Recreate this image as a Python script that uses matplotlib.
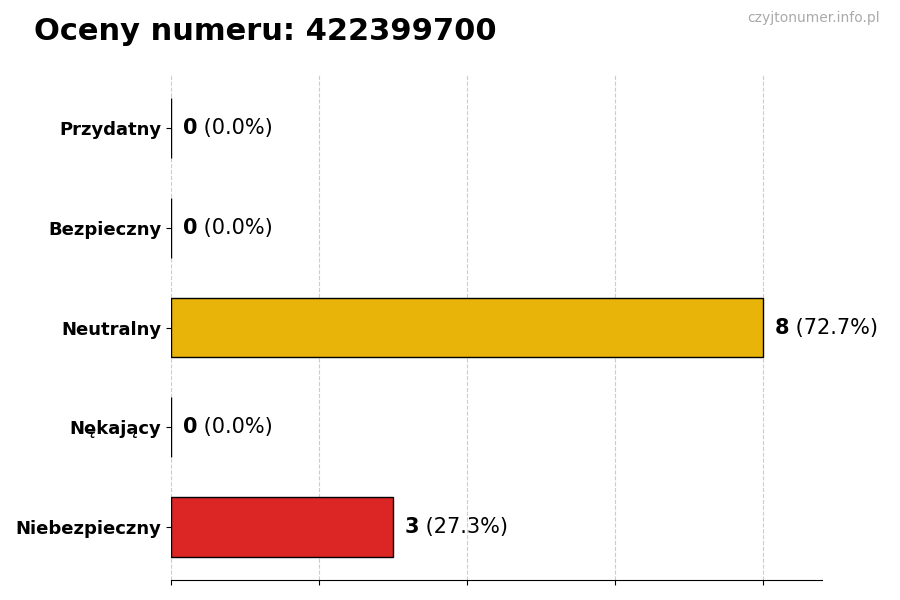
import matplotlib
matplotlib.use("Agg")
import matplotlib.pyplot as plt

# oceny dla numeru
categories = ["Niebezpieczny", "Nękający", "Neutralny", "Bezpieczny", "Przydatny"]
counts = [3, 0, 8, 0, 0]
colors = ["#DC2626", "#F97316", "#E8B40A", "#84CC16", "#16A34A"]
total = sum(counts)

fig = plt.figure(figsize=(9, 6), dpi=100)
ax = fig.add_axes([0.19, 0.0333, 0.7233, 0.8417])

ax.barh(categories, counts, height=0.6, color=colors, edgecolor="black", linewidth=1, zorder=3)
ax.set_xlim(0, max(counts) * 1.1)
ax.set_xticks(range(0, max(counts) + 1, 2))
ax.set_xticklabels([])
ax.grid(axis="x", linestyle="--", color="#cccccc", linewidth=0.8, zorder=0)

for s in ["top", "right", "left"]:
    ax.spines[s].set_visible(False)

for lbl in ax.get_yticklabels():
    lbl.set_fontweight("bold")
    lbl.set_fontsize(13)

# etykiety z wartoscia i procentem
for i, c in enumerate(counts):
    pct = c / total * 100
    t = ax.text(c + 0.16, i, str(c), fontsize=15, fontweight="bold", va="center", ha="left")
    ax.annotate(f" ({pct:.1f}%)", xy=(1, 0.5), xycoords=t, va="center", ha="left", fontsize=15)

fig.text(0.038, 0.948, "Oceny numeru: 422399700", fontsize=22, fontweight="bold", va="center", ha="left")
fig.text(0.978, 0.97, "czyjtonumer.info.pl", fontsize=10, color="#aaaaaa", va="center", ha="right")

fig.savefig("out.png", dpi=100)
